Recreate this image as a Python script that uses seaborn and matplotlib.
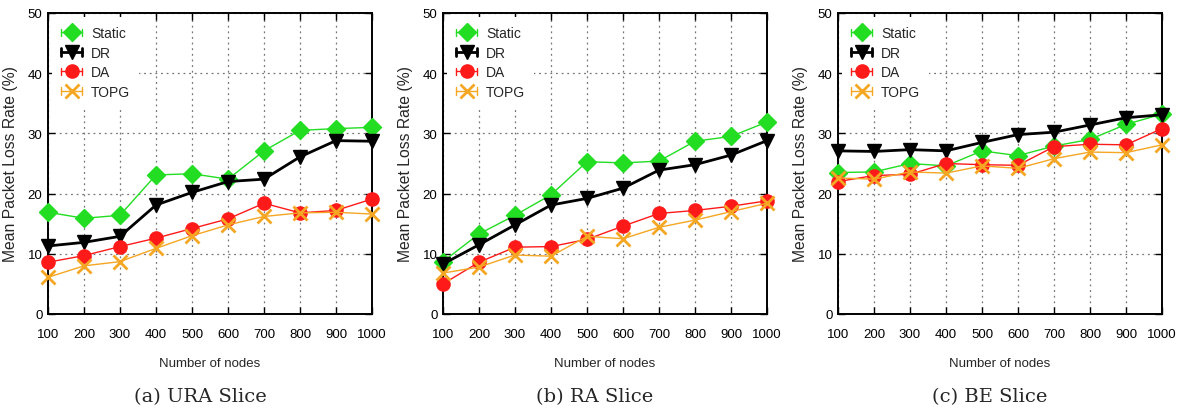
import numpy as np
import pandas as pd
import matplotlib
matplotlib.use("Agg")
import matplotlib.pyplot as plt
from matplotlib.lines import Line2D
from matplotlib.legend_handler import HandlerBase
import seaborn as sns

# ---------------- data ----------------
nodes = [100, 200, 300, 400, 500, 600, 700, 800, 900, 1000]
series_names = ["Static", "DR", "DA", "TOPG"]
panel_titles = ["(a) URA Slice", "(b) RA Slice", "(c) BE Slice"]
y_ticks = [0, 10, 20, 30, 40, 50]
x_label = "Number of nodes"
y_label = "Mean Packet Loss Rate (%)"

ura_static = [16.9, 15.9, 16.4, 23.1, 23.3, 22.4, 27.1, 30.5, 30.8, 31.0]
ura_dr     = [11.3, 11.9, 12.9, 18.1, 20.2, 22.0, 22.4, 26.1, 28.8, 28.7]
ura_da     = [8.6, 9.7, 11.2, 12.6, 14.2, 15.8, 18.4, 16.8, 17.2, 19.1]
ura_topg   = [6.1, 8.0, 8.7, 10.9, 13.0, 14.8, 16.2, 16.8, 16.9, 16.6]

ra_static = [8.7, 13.3, 16.4, 19.8, 25.3, 25.1, 25.4, 28.7, 29.5, 31.9]
ra_dr     = [8.3, 11.5, 14.8, 18.1, 19.2, 20.9, 23.9, 24.8, 26.4, 28.8]
ra_da     = [5.0, 8.6, 11.1, 11.2, 12.4, 14.6, 16.7, 17.2, 17.9, 18.8]
ra_topg   = [6.8, 7.8, 9.8, 9.6, 12.9, 12.5, 14.4, 15.6, 17.0, 18.4]

be_static = [23.5, 23.6, 25.0, 24.6, 27.1, 26.3, 27.9, 29.0, 31.5, 33.2]
be_dr     = [27.1, 27.0, 27.3, 27.1, 28.5, 29.8, 30.2, 31.4, 32.6, 33.1]
be_da     = [22.0, 23.0, 23.2, 25.0, 24.8, 24.7, 27.8, 28.2, 28.1, 30.8]
be_topg   = [22.6, 22.4, 23.6, 23.4, 24.6, 24.2, 25.8, 26.9, 26.8, 28.1]

panels = [
    [ura_static, ura_dr, ura_da, ura_topg],
    [ra_static, ra_dr, ra_da, ra_topg],
    [be_static, be_dr, be_da, be_topg],
]

# ---------------- style ----------------
colors = {"Static": "#22dd22", "DR": "#000000", "DA": "#ff1a1a", "TOPG": "#f5a623"}
markers = {"Static": "D", "DR": "v", "DA": "o", "TOPG": "x"}
msizes = {"Static": 9.5, "DR": 10.5, "DA": 9.5, "TOPG": 10.5}
lwidths = {"Static": 1.0, "DR": 2.0, "DA": 1.0, "TOPG": 1.0}

sns.set_style("ticks")
plt.rcParams["font.family"] = ["Liberation Sans", "DejaVu Sans"]


class CapHandler(HandlerBase):
    def create_artists(self, legend, orig_handle, xdescent, ydescent,
                       width, height, fontsize, trans):
        y = height / 2 - ydescent
        x0, x1 = -xdescent, width - xdescent
        h = height * 0.38
        c = orig_handle.get_color()
        lw = orig_handle.get_linewidth()
        line = Line2D([x0, x1], [y, y], color=c, lw=lw)
        cap1 = Line2D([x0, x0], [y - h, y + h], color=c, lw=lw)
        cap2 = Line2D([x1, x1], [y - h, y + h], color=c, lw=lw)
        mk = Line2D([(x0 + x1) / 2], [y], marker=orig_handle.get_marker(),
                    ms=orig_handle.get_markersize(), color=c,
                    mec=c, mew=orig_handle.get_markeredgewidth(), lw=0)
        arts = [line, cap1, cap2, mk]
        for a in arts:
            a.set_transform(trans)
        return arts


fig = plt.figure(figsize=(11.8, 4.1), dpi=100)
W, H = 1180, 410
ax_lefts = [48, 443, 838]
ax_w, ax_top, ax_bot = 324, 14, 315

for i, (vals, title) in enumerate(zip(panels, panel_titles)):
    ax = fig.add_axes([ax_lefts[i] / W, 1 - ax_bot / H, ax_w / W, (ax_bot - ax_top) / H])
    ax.set_axisbelow(True)
    df = pd.DataFrame({
        "nodes": nodes * 4,
        "value": sum(vals, []),
        "series": sum([[s] * len(nodes) for s in series_names], []),
    })
    handles = []
    for s in series_names:
        sub = df[df["series"] == s]
        sns.lineplot(data=sub, x="nodes", y="value", ax=ax, color=colors[s],
                     marker=markers[s], markersize=msizes[s], linewidth=lwidths[s],
                     markeredgecolor=colors[s],
                     markeredgewidth=2.0 if s == "TOPG" else 1.0,
                     legend=False, zorder=3, clip_on=False)
        handles.append(ax.get_lines()[-1])
    ax.set_xlim(100, 1000)
    ax.set_ylim(0, 50)
    ax.set_xticks(nodes)
    ax.set_yticks(y_ticks)
    ax.tick_params(axis="both", labelsize=9.5, colors="black", length=5, width=1)
    ax.tick_params(axis="x", direction="in", top=True, pad=10)
    ax.tick_params(axis="y", direction="in", right=True, pad=4)
    ax.grid(True, color="#777777", linestyle=(0, (1.5, 3)), linewidth=0.9)
    for sp in ax.spines.values():
        sp.set_color("black")
        sp.set_linewidth(1.4)
    ax.set_xlabel(x_label, fontsize=9.5, labelpad=12)
    ax.set_ylabel(y_label, fontsize=11.3, labelpad=7)
    leg = ax.legend(handles, series_names, handler_map={Line2D: CapHandler()},
                    loc="upper left", bbox_to_anchor=(0.0, 1.0), frameon=True,
                    fontsize=10, handlelength=1.5, handletextpad=0.65,
                    labelspacing=0.4, borderpad=0.65, borderaxespad=0.3,
                    fancybox=False, framealpha=1.0)
    leg.get_frame().set_edgecolor("none")
    leg.get_frame().set_facecolor("white")
    leg.set_zorder(5)
    fig.text((ax_lefts[i] + ax_w / 2 - 10) / W, 1 - 397 / H, title,
             ha="center", va="center", fontsize=14, family="DejaVu Serif")

fig.savefig("out.png", dpi=100)
